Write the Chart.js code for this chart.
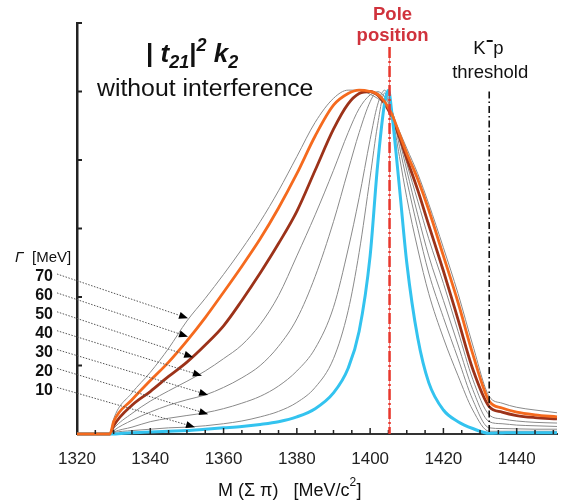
<!DOCTYPE html>
<html>
<head>
<meta charset="utf-8">
<script src="https://cdn.jsdelivr.net/npm/chart.js@4.4.0/dist/chart.umd.min.js"></script>
<style>
    html, body { margin: 0; padding: 0; background: #fff; }
    #wrap { width: 567px; height: 504px; }
</style>
</head>
<body>
<div id="wrap"><canvas id="lineShapeChart" width="567" height="504"></canvas></div>
<script>
// invariant mass grid M(Sigma pi) in MeV
const massGrid = [1320, 1329, 1330, 1335, 1340, 1345, 1350, 1355, 1360, 1365, 1370, 1375, 1380, 1385, 1390, 1394, 1397, 1400, 1402, 1404, 1405, 1406, 1408, 1410, 1413, 1416, 1420, 1424, 1428, 1432.5, 1436, 1440, 1445, 1451];

// |t21|^2 k2 line shapes (arb. units, peak ~ 5) for each width Gamma
const gamma70 = [0, 0, 0.22, 0.6, 0.9, 1.25, 1.65, 1.98, 2.33, 2.7, 3.1, 3.55, 4.05, 4.55, 4.9, 5.02, 5.02, 4.96, 4.9, 4.82, 4.75, 4.66, 4.42, 4.17, 3.8, 3.36, 2.72, 2.05, 1.3, 0.55, 0.45, 0.39, 0.35, 0.31];
const gamma60 = [0, 0, 0.18, 0.5, 0.78, 1.05, 1.36, 1.7, 2.07, 2.45, 2.85, 3.3, 3.8, 4.35, 4.8, 4.97, 5.02, 5.0, 4.96, 4.85, 4.76, 4.66, 4.38, 4.1, 3.72, 3.27, 2.6, 1.92, 1.17, 0.48, 0.38, 0.32, 0.28, 0.25];
const gamma50 = [0, 0, 0.12, 0.42, 0.62, 0.84, 1.05, 1.3, 1.58, 1.95, 2.35, 2.78, 3.25, 3.85, 4.45, 4.82, 4.97, 5.0, 4.95, 4.82, 4.73, 4.62, 4.33, 4.02, 3.56, 3.05, 2.38, 1.67, 0.95, 0.4, 0.32, 0.27, 0.24, 0.22];
const gamma40 = [0, 0, 0.08, 0.3, 0.48, 0.63, 0.77, 0.92, 1.1, 1.3, 1.6, 2.02, 2.6, 3.2, 3.85, 4.4, 4.75, 4.95, 4.98, 4.85, 4.78, 4.7, 4.35, 3.95, 3.4, 2.85, 2.2, 1.5, 0.8, 0.28, 0.22, 0.19, 0.17, 0.16];
const gamma30 = [0, 0, 0.05, 0.2, 0.32, 0.42, 0.5, 0.57, 0.68, 0.82, 1.0, 1.28, 1.68, 2.3, 3.1, 3.85, 4.4, 4.85, 5.0, 4.92, 4.83, 4.72, 4.3, 3.85, 3.2, 2.6, 1.95, 1.3, 0.65, 0.18, 0.15, 0.13, 0.12, 0.11];
const gamma20 = [0, 0, 0.03, 0.1, 0.18, 0.23, 0.27, 0.31, 0.37, 0.45, 0.55, 0.7, 0.92, 1.25, 1.85, 2.7, 3.45, 4.3, 4.8, 5.02, 4.9, 4.72, 4.2, 3.7, 3.0, 2.35, 1.7, 1.1, 0.5, 0.09, 0.08, 0.075, 0.07, 0.07];
const gamma10 = [0, 0, 0.02, 0.05, 0.07, 0.09, 0.1, 0.12, 0.15, 0.19, 0.25, 0.33, 0.46, 0.68, 1.1, 1.8, 2.65, 3.75, 4.5, 4.98, 4.85, 4.65, 4.05, 3.45, 2.7, 2.05, 1.4, 0.85, 0.35, 0.04, 0.04, 0.04, 0.04, 0.04];
const narrowest = [0, 0, 0, 0.02, 0.03, 0.04, 0.05, 0.07, 0.09, 0.11, 0.14, 0.18, 0.25, 0.37, 0.6, 0.96, 1.5, 2.6, 3.9, 4.85, 5.02, 4.65, 3.6, 2.5, 1.4, 0.75, 0.35, 0.18, 0.08, 0.01, 0.015, 0.02, 0.02, 0.02];

const xTickLabels = [1320, 1340, 1360, 1380, 1400, 1420, 1440];
const gammaLabels = ['70', '60', '50', '40', '30', '20', '10'];
const polePosition = 1405.3;
const kpThreshold = 1432.5;

// where each Gamma arrow ends (data coords on its curve)
const arrowTips = [[1350.3, 1.69], [1350.3, 1.42], [1351.7, 1.12], [1354.1, 0.85], [1355.8, 0.57], [1355.8, 0.29], [1352.2, 0.10]];

function toPoints(values) {
    return massGrid.map((m, i) => ({ x: m, y: values[i] }));
}

function curve(label, values, color, width, order) {
    return {
        label: label,
        data: toPoints(values),
        borderColor: color,
        borderWidth: width,
        pointRadius: 0,
        cubicInterpolationMode: 'monotone',
        clip: false,
        order: order
    };
}

const GRAY = '#8a8a8a';

function drawArrow(ctx, x0, y0, x1, y1) {
    const ang = Math.atan2(y1 - y0, x1 - x0);
    const head = 9;
    const bx = x1 - head * Math.cos(ang), by = y1 - head * Math.sin(ang);
    ctx.save();
    ctx.strokeStyle = '#555';
    ctx.lineWidth = 1;
    ctx.setLineDash([1.5, 1.5]);
    ctx.beginPath();
    ctx.moveTo(x0, y0);
    ctx.lineTo(bx, by);
    ctx.stroke();
    ctx.setLineDash([]);
    ctx.fillStyle = '#000';
    ctx.beginPath();
    ctx.moveTo(x1, y1);
    ctx.lineTo(bx + 3.5 * Math.sin(ang), by - 3.5 * Math.cos(ang));
    ctx.lineTo(bx - 3.5 * Math.sin(ang), by + 3.5 * Math.cos(ang));
    ctx.closePath();
    ctx.fill();
    ctx.restore();
}

// inward tick marks, marker lines and all the text labels
const decorations = {
    id: 'decorations',
    afterDatasetsDraw(chart) {
        const { ctx, scales: { x, y }, chartArea } = chart;
        const FONT = '"Liberation Sans", Arial, sans-serif';
        ctx.save();

        // ticks pointing into the plot
        ctx.strokeStyle = '#222';
        ctx.lineWidth = 1.5;
        for (let m = 1325; m <= 1450; m += 5) {
            const px = x.getPixelForValue(m);
            const len = m % 20 === 0 ? 6 : 4;
            ctx.beginPath();
            ctx.moveTo(px, chartArea.bottom);
            ctx.lineTo(px, chartArea.bottom - len);
            ctx.stroke();
        }
        ctx.lineWidth = 2;
        for (let v = 1; v <= 6; v++) {
            const py = y.getPixelForValue(v);
            ctx.beginPath();
            ctx.moveTo(chartArea.left, py);
            ctx.lineTo(chartArea.left + 5, py);
            ctx.stroke();
        }

        // K- p threshold (dash-dot)
        const kx = x.getPixelForValue(kpThreshold);
        ctx.strokeStyle = '#111';
        ctx.lineWidth = 1.6;
        ctx.setLineDash([7, 3, 1.5, 3]);
        ctx.beginPath();
        ctx.moveTo(kx, y.getPixelForValue(5));
        ctx.lineTo(kx, chartArea.bottom);
        ctx.stroke();

        // pole position (red dashed)
        const px = x.getPixelForValue(polePosition);
        ctx.setLineDash([]);
        ctx.strokeStyle = 'rgba(220, 40, 40, 0.55)';
        ctx.lineWidth = 1;
        ctx.beginPath();
        ctx.moveTo(px, 47);
        ctx.lineTo(px, chartArea.bottom);
        ctx.stroke();
        ctx.strokeStyle = '#e8372c';
        ctx.lineWidth = 2.5;
        ctx.setLineDash([11, 3, 2, 3]);
        ctx.beginPath();
        ctx.moveTo(px, 47);
        ctx.lineTo(px, chartArea.bottom);
        ctx.stroke();
        ctx.setLineDash([]);

        ctx.textBaseline = 'middle';
        ctx.textAlign = 'center';
        ctx.fillStyle = '#d0323c';
        ctx.font = 'bold 18.5px ' + FONT;
        ctx.fillText('Pole', px + 3, 15);
        ctx.fillText('position', px + 3, 36);

        ctx.fillStyle = '#111';
        ctx.font = '18.5px ' + FONT;
        ctx.fillText('threshold', kx + 1, 73);
        ctx.textAlign = 'left';
        ctx.fillText('K', kx - 16, 49);
        ctx.fillText('p', kx + 4, 49);
        ctx.fillRect(kx - 2.5, 40, 6, 2);

        // | t21 |^2 k2
        let cx = 146;
        const by = 62;
        ctx.textBaseline = 'alphabetic';
        const pieces = [
            ['|', 'bold 26px ', 0],
            [' t', 'italic bold 26px ', 0],
            ['21', 'italic bold 18px ', 6],
            ['|', 'bold 26px ', 0],
            ['2', 'italic bold 18px ', -11],
            [' k', 'italic bold 26px ', 0],
            ['2', 'italic bold 18px ', 6]
        ];
        pieces.forEach(p => {
            ctx.font = p[1] + FONT;
            ctx.fillText(p[0], cx, by + p[2]);
            cx += ctx.measureText(p[0]).width;
        });

        ctx.font = '24.8px ' + FONT;
        ctx.textBaseline = 'middle';
        ctx.fillText('without interference', 97, 89);

        // Gamma legend
        ctx.font = 'italic 15px ' + FONT;
        ctx.fillText('\u0393', 15, 258);
        ctx.font = '15px ' + FONT;
        ctx.fillText('[MeV]', 32, 258);
        ctx.font = 'bold 16px ' + FONT;
        ctx.textAlign = 'right';
        gammaLabels.forEach((g, i) => {
            const ly = 277 + i * 18.9;
            ctx.fillText(g, 53, ly);
            const tip = arrowTips[i];
            drawArrow(ctx, 57, ly - 3, x.getPixelForValue(tip[0]), y.getPixelForValue(tip[1]));
        });

        // axis title
        ctx.textAlign = 'left';
        ctx.font = '18px ' + FONT;
        ctx.fillStyle = '#111';
        ctx.fillText('M (\u03A3 \u03C0)   [MeV/c', 218, 491);
        const w = ctx.measureText('M (\u03A3 \u03C0)   [MeV/c').width;
        ctx.font = '12px ' + FONT;
        ctx.fillText('2', 218 + w, 483);
        ctx.font = '18px ' + FONT;
        ctx.fillText(']', 218 + w + 7, 491);

        ctx.restore();
    }
};

new Chart(document.getElementById('lineShapeChart'), {
    type: 'line',
    data: {
        datasets: [
            curve('\u0393 = 70', gamma70, GRAY, 1, 5),
            curve('\u0393 = 40', gamma40, GRAY, 1, 5),
            curve('\u0393 = 30', gamma30, GRAY, 1, 5),
            curve('\u0393 = 20', gamma20, GRAY, 1, 5),
            curve('\u0393 = 10', gamma10, GRAY, 1, 5),
            curve('\u0393 = 50', gamma50, '#9c3219', 2.8, 3),
            curve('narrow', narrowest, '#33c3ef', 3, 2),
            curve('\u0393 = 60', gamma60, '#f56a1e', 2.8, 1)
        ]
    },
    options: {
        responsive: false,
        animation: false,
        layout: { padding: { top: 23, right: 10, left: 0, bottom: 0 } },
        plugins: { legend: { display: false }, tooltip: { enabled: false } },
        scales: {
            x: {
                type: 'linear',
                min: 1320,
                max: 1451,
                afterBuildTicks: scale => { scale.ticks = xTickLabels.map(v => ({ value: v })); },
                afterFit: scale => { scale.height = 70; },
                grid: { display: false, drawTicks: false },
                border: { display: true, color: '#333', width: 2 },
                ticks: {
                    color: '#222',
                    padding: 15,
                    font: { size: 17, family: '"Liberation Sans", Arial, sans-serif' },
                    callback: v => String(v)
                }
            },
            y: {
                min: 0,
                max: 6,
                afterFit: scale => { scale.width = 77; },
                grid: { display: false, drawTicks: false },
                border: { display: true, color: '#222', width: 2.5 },
                ticks: { display: false }
            }
        }
    },
    plugins: [decorations]
});
</script>
</body>
</html>
